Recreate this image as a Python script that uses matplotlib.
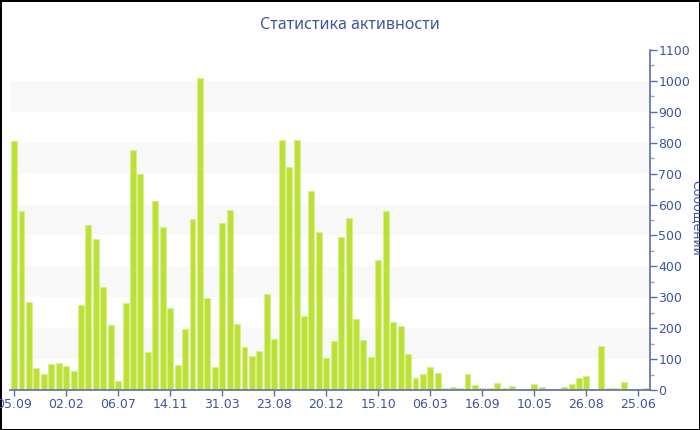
import matplotlib
matplotlib.use("Agg")
import matplotlib.pyplot as plt
from matplotlib.ticker import MultipleLocator
import numpy as np

# Messages per period
messages = [
    806, 580, 285, 70, 51, 84, 87, 78, 61, 276,
    533, 487, 334, 209, 29, 283, 776, 700, 124, 611,
    528, 266, 80, 197, 552, 1010, 299, 73, 540, 583,
    212, 139, 111, 127, 311, 164, 810, 723, 809, 241,
    644, 510, 105, 157, 496, 558, 229, 163, 108, 419,
    578, 220, 207, 115, 38, 51, 73, 56, 5, 9,
    7, 52, 16, 5, 5, 23, 5, 12, 4, 4,
    20, 9, 4, 4, 9, 20, 40, 45, 4, 143,
    6, 5, 25, 4, 4, 6,
]
tick_labels = ['05.09', '02.02', '06.07', '14.11', '31.03', '23.08', '20.12',
               '15.10', '06.03', '16.09', '10.05', '26.08', '25.06']
tick_step = 7

colors = {
    'bar': '#bde036',
    'bar_edge': '#d9ef8c',
    'band': '#f8f8f8',
    'axis': '#5a6db0',
    'text': '#3d55a0',
}

fig = plt.figure(figsize=(7, 4.3), dpi=100)
fig.patch.set_facecolor('white')
fig.patch.set_edgecolor('black')
fig.patch.set_linewidth(2)
ax = fig.add_axes([10 / 700, 1 - 390 / 430, 640 / 700, 340 / 430])

x = np.arange(len(messages))
ymax = 1100

# alternating horizontal bands
for lo in range(100, ymax, 200):
    ax.axhspan(lo, lo + 100, color=colors['band'], zorder=0, lw=0)

ax.bar(x, messages, width=0.8, color=colors['bar'],
       edgecolor=colors['bar_edge'], linewidth=0.8, zorder=2)

ax.set_xlim(-0.55, len(messages) - 0.45)
ax.set_ylim(0, ymax)

ax.set_xticks(x[::tick_step])
ax.set_xticklabels(tick_labels)
ax.yaxis.tick_right()
ax.yaxis.set_major_locator(MultipleLocator(100))
ax.yaxis.set_minor_locator(MultipleLocator(50))

ax.tick_params(axis='x', colors=colors['axis'], labelcolor=colors['text'],
               labelsize=9, length=4, width=1, pad=2)
ax.tick_params(axis='y', which='major', colors=colors['axis'],
               labelcolor=colors['text'], labelsize=9, length=5, width=1, pad=1)
ax.tick_params(axis='y', which='minor', colors='#9aa3c4', length=3, width=1)

for side in ('top', 'left'):
    ax.spines[side].set_visible(False)
for side in ('bottom', 'right'):
    ax.spines[side].set_color(colors['axis'])
    ax.spines[side].set_linewidth(1.2)

fig.text(0.5, 1 - 25 / 430, 'Статистика активности', ha='center', va='center',
         fontsize=11.5, color=colors['text'], family=['Noto Sans', 'DejaVu Sans'])
fig.text(690 / 700, 1 - 218 / 430, 'Сообщений', rotation=-90, ha='left',
         va='center', fontsize=9, color=colors['text'])

fig.savefig('out.png', dpi=100, facecolor='white', edgecolor='black')
plt.close(fig)
